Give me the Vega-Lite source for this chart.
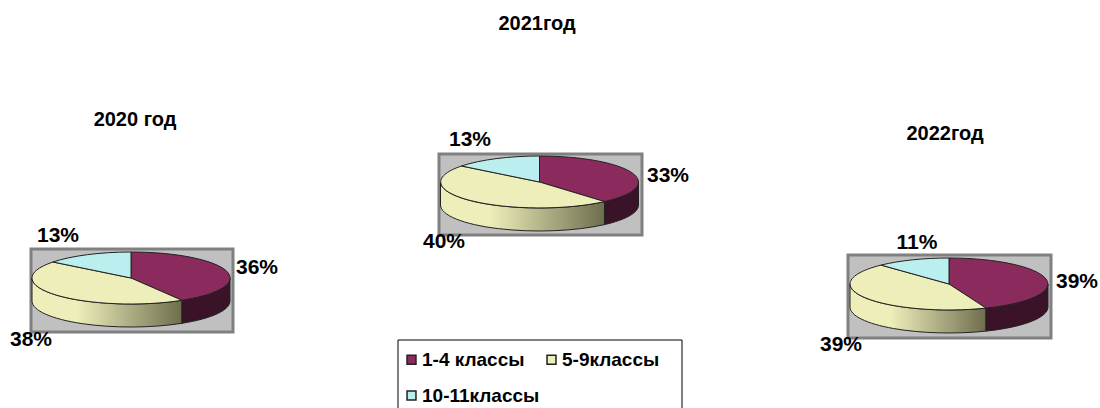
{
"$schema":"https://vega.github.io/schema/vega-lite/v6.json",
"width":1100,"height":408,"padding":0,"autosize":"none",
"background":"white",
"config":{"view":{"stroke":null},"text":{"font":"Liberation Sans","fontWeight":"bold"}},
"datasets":{
"charts":[
{"name":"2020 год","tx":135,"ty":120,"x0":31,"x1":233,"y0":249,"y1":332},
{"name":"2021год","tx":537,"ty":24,"x0":439,"x1":642,"y0":154,"y1":235},
{"name":"2022год","tx":945,"ty":134,"x0":848,"x1":1051,"y0":255,"y1":338}
],
"box":[{"name":"legend","x0":398,"x1":682,"y0":340,"y1":412}],
"slices":[
{"year":"2020","class":"1-4 классы","share":0.36,"slice":"a","cx":131,"cy":278,"lx":257,"ly":268},
{"year":"2020","class":"5-9классы","share":0.38,"slice":"b","cx":131,"cy":278,"lx":31,"ly":340},
{"year":"2020","class":"10-11классы","share":0.13,"slice":"c","cx":131,"cy":278,"lx":58,"ly":236},
{"year":"2021","class":"1-4 классы","share":0.33,"slice":"d","cx":539.5,"cy":182,"lx":668,"ly":176},
{"year":"2021","class":"5-9классы","share":0.40,"slice":"e","cx":539.5,"cy":182,"lx":444,"ly":242},
{"year":"2021","class":"10-11классы","share":0.13,"slice":"f","cx":539.5,"cy":182,"lx":470,"ly":140},
{"year":"2022","class":"1-4 классы","share":0.39,"slice":"g","cx":949,"cy":284,"lx":1077,"ly":282},
{"year":"2022","class":"5-9классы","share":0.39,"slice":"h","cx":949,"cy":284,"lx":841,"ly":345},
{"year":"2022","class":"10-11классы","share":0.11,"slice":"i","cx":949,"cy":284,"lx":917,"ly":243}
]},
"data":{"name":"slices"},
"layer":[
{"data":{"name":"charts"},"mark":{"type":"rect","fill":"#C0C0C0","stroke":"#808080","strokeWidth":3},
 "encoding":{"x":{"field":"x0","type":"quantitative","scale":{"domain":[0,1100],"nice":false,"zero":false},"axis":null},"x2":{"field":"x1"},
 "y":{"field":"y0","type":"quantitative","scale":{"domain":[408,0],"nice":false,"zero":false},"axis":null},"y2":{"field":"y1"}}},
{"data":{"name":"box"},"mark":{"type":"rect","fill":"white","stroke":"black","strokeWidth":1},
 "encoding":{"x":{"field":"x0","type":"quantitative"},"x2":{"field":"x1"},"y":{"field":"y0","type":"quantitative"},"y2":{"field":"y1"}}},
{"transform":[{"filter":"datum.class==='5-9классы'"}],
 "mark":{"type":"point","filled":true,"opacity":1,"size":4,"stroke":"#222222","strokeWidth":1,
  "fill":{"gradient":"linear","x1":0,"y1":0,"x2":1,"y2":0,"stops":[{"offset":0,"color":"#EEEEBB"},{"offset":0.3,"color":"#EEEEBB"},{"offset":1,"color":"#6E6E4E"}]}},
 "encoding":{"x":{"field":"cx","type":"quantitative"},"y":{"field":"cy","type":"quantitative"},
  "shape":{"field":"slice","type":"nominal","legend":null,"scale":{"domain":["b","e","h"],"range":[
   "M51,22.3L51,45.3A99,26 0 0 1 -99,23L-99,0A99,26 0 0 0 51,22.3Z",
   "M65,19.6L65,42.6A99,26 0 0 1 -99,23L-99,0A99,26 0 0 0 65,19.6Z",
   "M37,24.1L37,47.1A99,26 0 0 1 -99,23L-99,0A99,26 0 0 0 37,24.1Z"]}}}},
{"transform":[{"filter":"datum.class==='1-4 классы'"}],
 "mark":{"type":"point","filled":true,"opacity":1,"size":4,"stroke":"#222222","strokeWidth":1,"fill":"#3B1329"},
 "encoding":{"x":{"field":"cx","type":"quantitative"},"y":{"field":"cy","type":"quantitative"},
  "shape":{"field":"slice","type":"nominal","legend":null,"scale":{"domain":["a","d","g"],"range":[
   "M99,0L99,23A99,26 0 0 1 51,45.3L51,22.3A99,26 0 0 0 99,0Z",
   "M99,0L99,23A99,26 0 0 1 65,42.6L65,19.6A99,26 0 0 0 99,0Z",
   "M99,0L99,23A99,26 0 0 1 37,47.1L37,24.1A99,26 0 0 0 99,0Z"]}}}},
{"mark":{"type":"point","filled":true,"opacity":1,"size":4,"stroke":"#222222","strokeWidth":1},
 "encoding":{"x":{"field":"cx","type":"quantitative"},"y":{"field":"cy","type":"quantitative"},
  "shape":{"field":"slice","type":"nominal","legend":null,"scale":{"domain":["a","b","c","d","e","f","g","h","i"],"range":[
   "M0,0L0,-26A99,26 0 0 1 51,22.3Z",
   "M0,0L51,22.3A99,26 0 0 1 -78,-16Z",
   "M0,0L-78,-16A99,26 0 0 1 0,-26Z",
   "M0,0L0,-26A99,26 0 0 1 65,19.6Z",
   "M0,0L65,19.6A99,26 0 0 1 -78,-16Z",
   "M0,0L-78,-16A99,26 0 0 1 0,-26Z",
   "M0,0L0,-26A99,26 0 0 1 37,24.1Z",
   "M0,0L37,24.1A99,26 0 0 1 -68,-18.9Z",
   "M0,0L-68,-18.9A99,26 0 0 1 0,-26Z"]}},
  "fill":{"field":"class","type":"nominal","scale":{"domain":["1-4 классы","10-11классы","5-9классы"],"range":["#8B2A5C","#BBEEEE","#EEEEBB"]},
   "legend":{"orient":"none","legendX":402,"legendY":350,"title":null,"columns":2,"columnPadding":2,"rowPadding":16,"padding":0,"zindex":1,
    "symbolType":"square","symbolSize":80,"labelFont":"Liberation Sans","labelFontWeight":"bold","labelFontSize":19,"labelColor":"black","labelOffset":1,"labelLimit":200,
    "encoding":{"symbols":{"update":{"stroke":{"value":"black"},"strokeWidth":{"value":2},"opacity":{"value":1}}}}}}}},
{"mark":{"type":"text","fontSize":21,"align":"center","baseline":"middle","color":"black"},
 "encoding":{"x":{"field":"lx","type":"quantitative"},"y":{"field":"ly","type":"quantitative"},"text":{"field":"share","type":"quantitative","format":".0%"}}},
{"data":{"name":"charts"},"mark":{"type":"text","fontSize":20,"align":"center","baseline":"middle","color":"black"},
 "encoding":{"x":{"field":"tx","type":"quantitative"},"y":{"field":"ty","type":"quantitative"},"text":{"field":"name","type":"nominal"}}}
],
"resolve":{"scale":{"shape":"independent"}}
}
